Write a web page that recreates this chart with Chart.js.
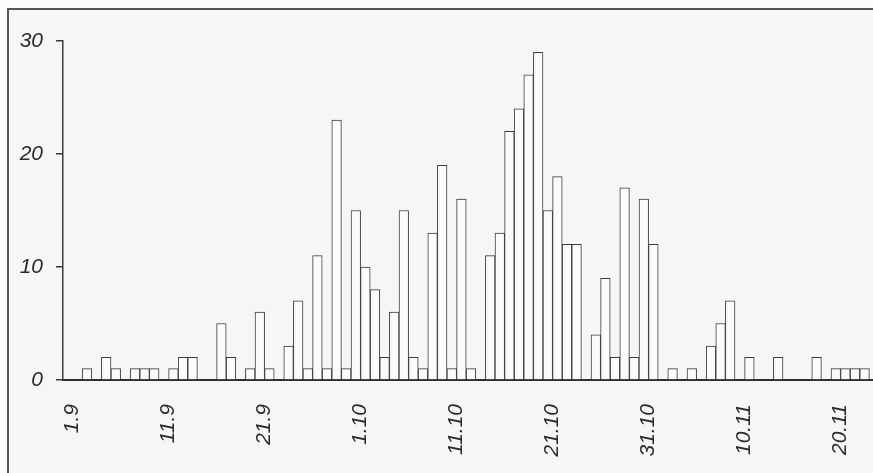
<!DOCTYPE html>
<html>
<head>
<meta charset="utf-8">
<script src="https://cdn.jsdelivr.net/npm/chart.js@4"></script>
<style>
  html, body { margin: 0; padding: 0; width: 873px; height: 473px; overflow: hidden; background: #fbfbfa; }
  #frame { position: absolute; left: 7px; top: 8px; width: 900px; height: 500px; border: 2px solid #555; background: #f6f6f4; box-sizing: border-box; }
  #wrap { position: absolute; left: 0; top: 0; width: 880px; height: 473px; }
</style>
</head>
<body>
<div id="frame"></div>
<div id="wrap"><canvas id="c" width="880" height="473"></canvas></div>
<script>
const categories = [
  "31.8",
  "1.9","2.9","3.9","4.9","5.9","6.9","7.9","8.9","9.9","10.9",
  "11.9","12.9","13.9","14.9","15.9","16.9","17.9","18.9","19.9","20.9",
  "21.9","22.9","23.9","24.9","25.9","26.9","27.9","28.9","29.9","30.9",
  "1.10","2.10","3.10","4.10","5.10","6.10","7.10","8.10","9.10","10.10",
  "11.10","12.10","13.10","14.10","15.10","16.10","17.10","18.10","19.10","20.10",
  "21.10","22.10","23.10","24.10","25.10","26.10","27.10","28.10","29.10","30.10","31.10",
  "1.11","2.11","3.11","4.11","5.11","6.11","7.11","8.11","9.11","10.11",
  "11.11","12.11","13.11","14.11","15.11","16.11","17.11","18.11","19.11","20.11",
  "21.11","22.11","23.11"
];
const counts = [
  0,
  0,1,0,2,1,0,1,1,1,0,
  1,2,2,0,0,5,2,0,1,6,
  1,0,3,7,1,11,1,23,1,15,
  10,8,2,6,15,2,1,13,19,1,
  16,1,0,11,13,22,24,27,29,15,
  18,12,12,0,4,9,2,17,2,16,12,
  0,1,0,1,0,3,5,7,0,2,
  0,0,2,0,0,0,2,0,1,1,
  1,1,0
];
const tickLabels = ["1.9","11.9","21.9","1.10","11.10","21.10","31.10","10.11","20.11"];
const yTicks = [0, 10, 20, 30];

const font = { family: "'Liberation Sans', Arial, sans-serif", size: 21, style: 'italic' };

new Chart(document.getElementById('c'), {
  type: 'bar',
  data: {
    labels: categories,
    datasets: [{
      data: counts,
      backgroundColor: '#fbfbfa',
      borderColor: '#3a3a3a',
      borderWidth: 1,
      categoryPercentage: 1.0,
      barPercentage: 1.0
    }]
  },
  options: {
    responsive: false,
    animation: false,
    layout: { padding: { top: 41, right: 1, left: 0, bottom: 0 } },
    plugins: { legend: { display: false }, tooltip: { enabled: false } },
    scales: {
      x: {
        grid: { display: false },
        border: { display: true, color: '#2e2e2e', width: 2 },
        ticks: {
          autoSkip: false,
          minRotation: 90,
          maxRotation: 90,
          padding: 16,
          labelOffset: -4.8,
          color: '#2b2b2b',
          font: font,
          callback: function (value, index) {
            const c = categories[index];
            return tickLabels.includes(c) ? c : '';
          }
        },
        afterFit: function (scale) {
          scale.height = 93;
          scale.paddingLeft = 0;
          scale.paddingRight = 0;
        }
      },
      y: {
        min: 0,
        max: 30,
        afterBuildTicks: function (scale) { scale.ticks = yTicks.map(v => ({ value: v })); },
        grid: { drawOnChartArea: false, drawTicks: true, tickLength: 7, color: '#3a3a3a', lineWidth: 1.5 },
        border: { display: true, color: '#3a3a3a', width: 1.5 },
        ticks: { padding: 13, color: '#2b2b2b', font: font },
        afterFit: function (scale) { scale.width = 63; }
      }
    }
  }
});
</script>
</body>
</html>
